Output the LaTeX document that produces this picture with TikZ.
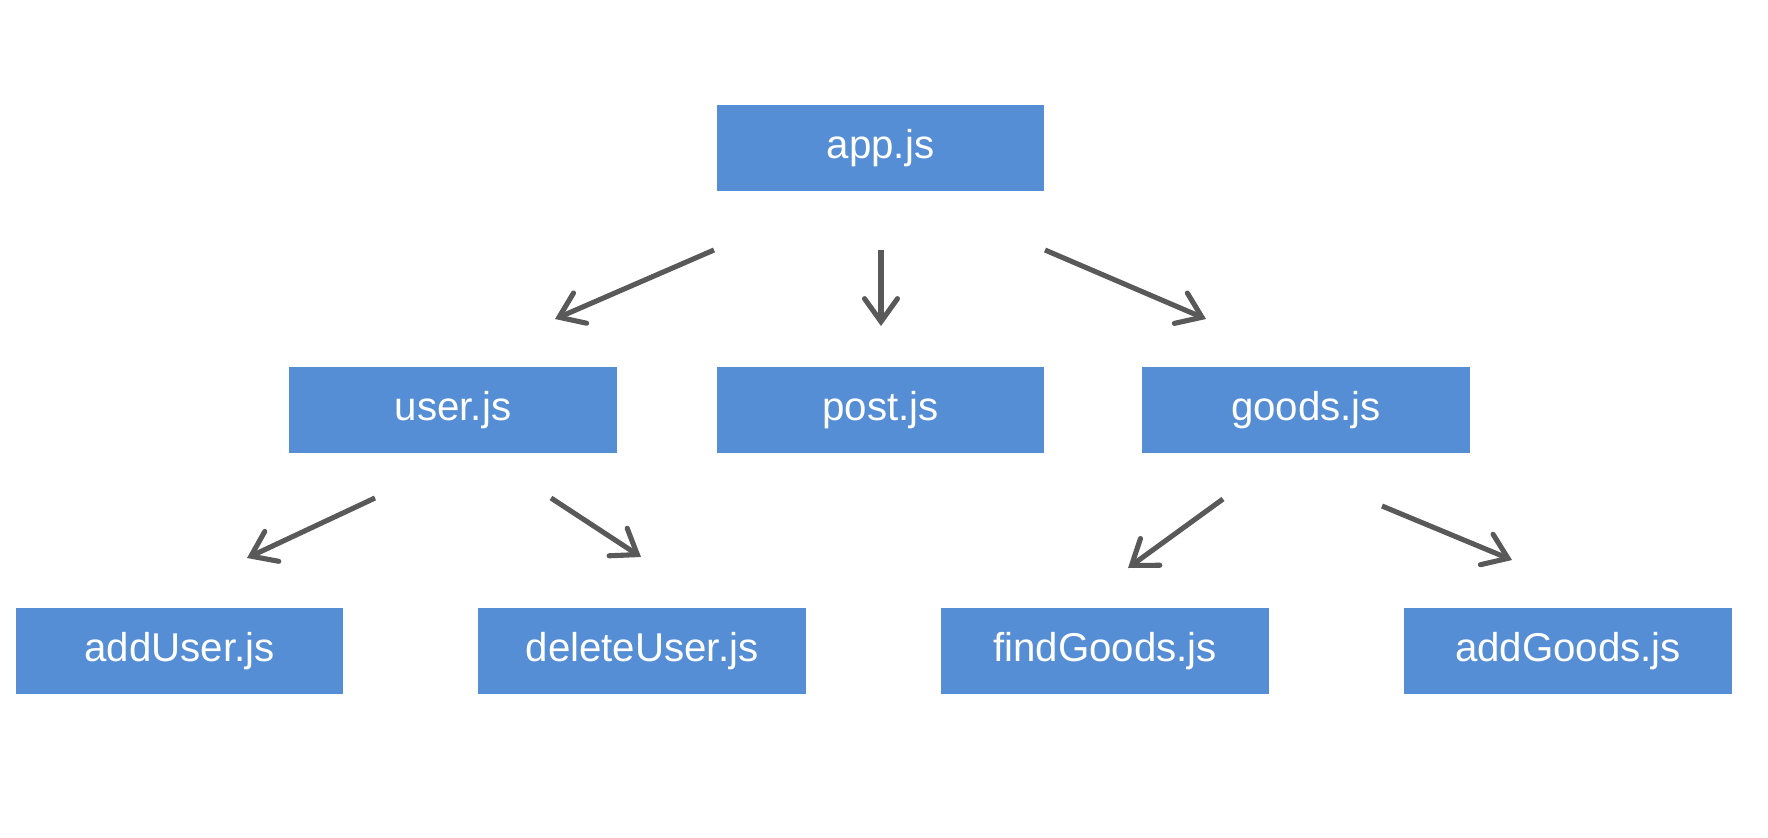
\documentclass[tikz,border=0pt]{standalone}
\usepackage{fontspec}
\setmainfont{Liberation Sans}
\usepackage{tikz}
\usetikzlibrary{arrows.meta}
\definecolor{boxblue}{HTML}{558ED5}
\definecolor{arrowgray}{HTML}{595959}

\begin{document}
\begin{tikzpicture}[x=0.02cm,y=-0.02cm]
        \tikzstyle{file} = [fill=boxblue,text=white,inner sep=0pt,
          minimum width=6.56cm,minimum height=1.74cm,
          font=\fontsize{22.9}{27}\selectfont]
        \tikzstyle{link} = [draw=arrowgray,line width=2.9pt,
          -{Straight Barb[length=0.46cm,width=0.66cm,line cap=round]}]
        \useasboundingbox (0,0) rectangle (1768,838);
        \foreach \l/\t/\x/\y in {app/app.js/880.5/148,
          user/user.js/453/410, post/post.js/880.5/410, goods/goods.js/1306/410,
          addUser/addUser.js/179.5/651, deleteUser/deleteUser.js/642/651,
          findGoods/findGoods.js/1105/651, addGoods/addGoods.js/1568/651} {
          \node[file] (\l) at (\x,\y) {\raisebox{-2pt}{\t}};
        }

        % free ends of the arrows
        \foreach \l/\x/\y in {a1/714/250, b1/555/319, a2/881/250, b2/881/326,
          a3/1045/250, b3/1206/319, a4/375/498, b4/247/558,
          a5/551/498, b5/641/557, a6/1223/499, b6/1128/568,
          a7/1382/506, b7/1512/560} {
          \coordinate (\l) at (\x,\y);
        }
        \foreach \a/\b in {a1/b1, a2/b2, a3/b3, a4/b4, a5/b5, a6/b6, a7/b7} {
          \draw[link] (\a) -- (\b);
        }
      \end{tikzpicture}
\end{document}
